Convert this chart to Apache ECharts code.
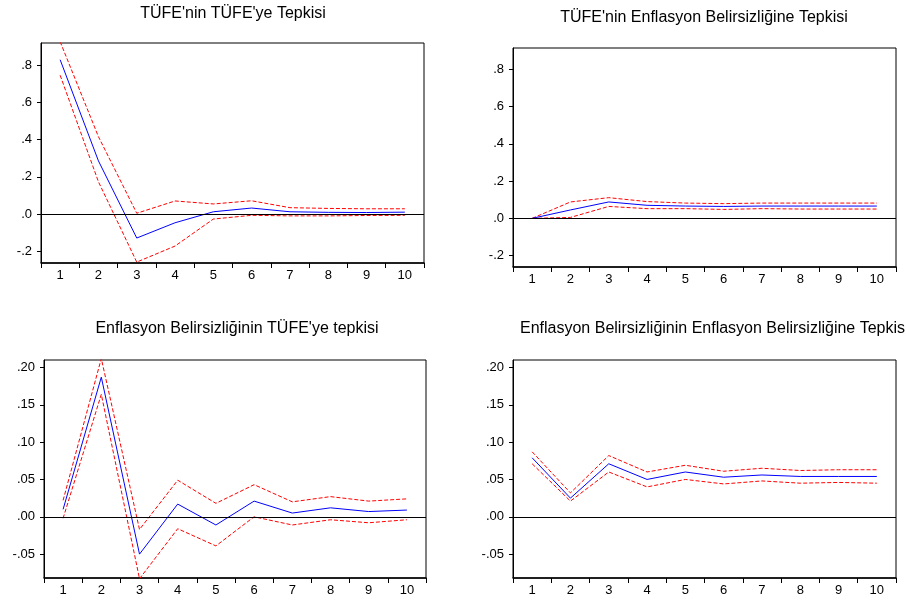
<!DOCTYPE html>
<html><head><meta charset="utf-8">
<script src="https://cdn.jsdelivr.net/npm/echarts@6/dist/echarts.min.js"></script>
<style>html,body{margin:0;padding:0;background:#fff}#c{width:906px;height:603px}</style>
</head><body><div id="c"></div>
<script>
const periods = ['1','2','3','4','5','6','7','8','9','10'];
const titles = [
  "TÜFE'nin TÜFE'ye Tepkisi",
  "TÜFE'nin Enflasyon Belirsizliğine Tepkisi",
  "Enflasyon Belirsizliğinin TÜFE'ye tepkisi",
  "Enflasyon Belirsizliğinin Enflasyon Belirsizliğine Tepkisi"
];
// Panel 1: TÜFE -> TÜFE
const p1Resp  = [0.828, 0.285, -0.129, -0.047, 0.012, 0.032, 0.012, 0.009, 0.008, 0.010];
const p1Upper = [0.925, 0.415, 0.004, 0.070, 0.054, 0.071, 0.034, 0.030, 0.028, 0.028];
const p1Lower = [0.745, 0.173, -0.258, -0.172, -0.027, -0.007, -0.010, -0.010, -0.008, -0.007];
// Panel 2: TÜFE -> Enflasyon Belirsizliği
const p2Resp  = [0.000, 0.045, 0.088, 0.070, 0.066, 0.064, 0.066, 0.066, 0.066, 0.066];
const p2Upper = [0.000, 0.088, 0.111, 0.090, 0.082, 0.079, 0.082, 0.082, 0.082, 0.082];
const p2Lower = [0.000, 0.005, 0.064, 0.052, 0.052, 0.048, 0.052, 0.050, 0.050, 0.050];
// Panel 3: Enflasyon Belirsizliği -> TÜFE
const p3Resp  = [0.010, 0.187, -0.050, 0.017, -0.011, 0.021, 0.005, 0.012, 0.007, 0.009];
const p3Upper = [0.022, 0.212, -0.017, 0.049, 0.018, 0.043, 0.020, 0.027, 0.021, 0.024];
const p3Lower = [-0.002, 0.164, -0.083, -0.016, -0.039, 0.000, -0.011, -0.004, -0.008, -0.004];
// Panel 4: Enflasyon Belirsizliği -> Enflasyon Belirsizliği
const p4Resp  = [0.079, 0.025, 0.071, 0.050, 0.060, 0.053, 0.056, 0.054, 0.054, 0.054];
const p4Upper = [0.087, 0.032, 0.082, 0.060, 0.069, 0.061, 0.065, 0.062, 0.063, 0.063];
const p4Lower = [0.071, 0.021, 0.060, 0.040, 0.050, 0.044, 0.048, 0.045, 0.046, 0.045];

const yRanges = [[-0.263, 0.918], [-0.261, 0.914], [-0.082, 0.21], [-0.082, 0.21]];
const yDigits = [1, 1, 2, 2];
const panels = [[p1Resp,p1Upper,p1Lower],[p2Resp,p2Upper,p2Lower],[p3Resp,p3Upper,p3Lower],[p4Resp,p4Upper,p4Lower]];

const grids = [
  {left: 41, width: 383, top: 43, height: 220},
  {left: 513, width: 383, top: 48, height: 219},
  {left: 44, width: 382, top: 360, height: 218},
  {left: 513, width: 383, top: 360, height: 218}
];
const FONT = 'Liberation Sans, Arial, sans-serif';
function fmt(d){ return v => { let s = Number(v).toFixed(d); return s.replace(/^(-?)0\./,'$1.'); }; }

const option = {
  animation: false,
  title: [
    {text: titles[0], left: 228, top: 1, textAlign: 'center'},
    {text: titles[1], left: 699, top: 5, textAlign: 'center'},
    {text: titles[2], left: 232, top: 316, textAlign: 'center'},
    {text: titles[3], left: 515, top: 316}
  ].map(t => Object.assign(t, {textStyle: {fontFamily: FONT, fontSize: 16, fontWeight: 'normal', color: '#000'}})),
  grid: grids.map(g => Object.assign({}, g, {show: true, borderColor: '#000', borderWidth: 1, backgroundColor: 'transparent'})),
  xAxis: grids.map((g, i) => ({
    type: 'category', gridIndex: i, data: periods, boundaryGap: true,
    axisLine: {show: true, onZero: false, lineStyle: {color: '#000', width: 1.5}},
    axisTick: {show: true, length: 5, lineStyle: {color: '#000'}},
    axisLabel: {color: '#000', fontFamily: FONT, fontSize: 13, margin: 6},
    splitLine: {show: false}
  })),
  yAxis: grids.map((g, i) => ({
    type: 'value', gridIndex: i, min: yRanges[i][0], max: yRanges[i][1],
    axisLine: {show: true, lineStyle: {color: '#000'}},
    axisTick: {show: true, length: 4, lineStyle: {color: '#000'}},
    axisLabel: {color: '#000', fontFamily: FONT, fontSize: 13, margin: 9, formatter: fmt(yDigits[i]), showMinLabel: false, showMaxLabel: false},
    splitLine: {show: false}
  })),
  series: []
};
panels.forEach((p, i) => {
  option.series.push({
    type: 'line', xAxisIndex: i, yAxisIndex: i, data: p[0], showSymbol: false, symbol: 'none',
    lineStyle: {color: '#0000FF', width: 1}, z: 3,
    markLine: {silent: true, symbol: 'none', label: {show: false}, data: [{yAxis: 0}], lineStyle: {color: '#000', type: 'solid', width: 1}}
  });
  [p[1], p[2]].forEach(d => option.series.push({
    type: 'line', xAxisIndex: i, yAxisIndex: i, data: d, showSymbol: false, symbol: 'none',
    lineStyle: {color: '#FF0000', width: 1, type: [4, 2]}, z: 2
  }));
});
echarts.init(document.getElementById('c')).setOption(option);
</script></body></html>
